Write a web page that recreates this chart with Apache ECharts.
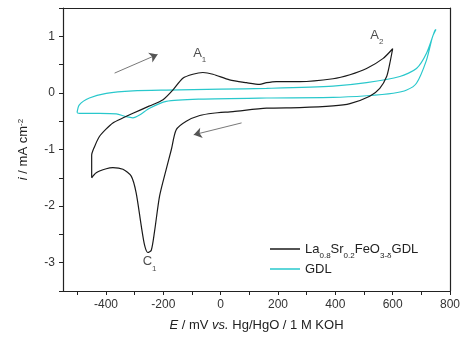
<!DOCTYPE html>
<html>
<head>
<meta charset="utf-8">
<script src="https://cdn.jsdelivr.net/npm/echarts@6/dist/echarts.min.js"></script>
<style>
  html, body { margin: 0; padding: 0; background: #fff; }
  #main { width: 465px; height: 346px; }
</style>
</head>
<body>
<div id="main"></div>
<script>
// LSF GDL loop: anodic sweep from -450 up to 600, then back down through C1
var lsfE = [-450, -450, -440, -423, -400, -376, -340, -306, -248, -201, -167, -132, -97, -62, -27, 31, 90, 136, 160, 194, 276, 392, 451, 509, 567, 600,
  590, 579, 555, 520, 451, 392, 276, 160, 43, -27, -73, -120, -155, -172, -190, -213, -231, -242, -254, -265, -277, -295, -312, -341, -376, -399, -434, -450]
var lsfI = [-1.5, -1.1, -0.95, -0.77, -0.64, -0.53, -0.44, -0.36, -0.23, -0.12, 0.05, 0.26, 0.33, 0.36, 0.33, 0.23, 0.18, 0.15, 0.18, 0.2, 0.2, 0.25, 0.32, 0.43, 0.61, 0.78,
  0.52, 0.29, 0.08, -0.06, -0.19, -0.23, -0.26, -0.27, -0.33, -0.36, -0.40, -0.50, -0.65, -1.0, -1.35, -1.82, -2.46, -2.78, -2.82, -2.70, -2.35, -1.76, -1.47, -1.35, -1.32, -1.34, -1.41, -1.5]
// bare GDL loop
var gdlE = [-501, -493, -458, -399, -306, -190, 0, 160, 392, 509, 625, 683, 718, 747, 751,
  739, 718, 683, 649, 602, 509, 392, 160, -73, -190, -248, -283, -306, -330, -364, -423, -493, -501]
var gdlI = [-0.35, -0.21, -0.09, -0.01, 0.035, 0.05, 0.065, 0.08, 0.12, 0.18, 0.29, 0.43, 0.70, 1.1, 1.12,
  0.99, 0.58, 0.17, 0.05, -0.006, -0.05, -0.08, -0.09, -0.11, -0.15, -0.27, -0.39, -0.44, -0.42, -0.37, -0.36, -0.36, -0.35]

var xTicks = [-500, -400, -300, -200, -100, 0, 100, 200, 300, 400, 500, 600, 700, 800]
var xLabels = [-400, -200, 0, 200, 400, 600, 800]
var yTicks = [-3.5, -3, -2.5, -2, -1.5, -1, -0.5, 0, 0.5, 1, 1.5]
var yLabels = [-3, -2, -1, 0, 1]

// peak labels and sweep arrows (data units)
var peakNames = ['A{s|1}', 'A{s|2}', 'C{s|1}']
var peakPos = [[-73, 0.70], [545, 1.02], [-248, -2.98]]
var arrowFrom = [[-370, 0.35], [73, -0.53]]
var arrowTo = [[-220, 0.68], [-94, -0.74]]

function zip(a, b) {
  var out = []
  a.forEach(function (v, i) {
    out.push([v, b[i]])
  })
  return out
}

var baseFont = 'Liberation Sans, Arial, sans-serif'
var ink = '#222'

var chart = echarts.init(document.getElementById('main'), null, { renderer: 'canvas' })
var axisLine = { onZero: false, lineStyle: { color: ink, width: 1.2 } }

chart.setOption({
  animation: false,
  backgroundColor: '#fff',
  textStyle: { fontFamily: baseFont },
  grid: { left: 63, right: 15, top: 8, bottom: 55 },
  legend: {
    left: 265, top: 233, orient: 'vertical', icon: 'rect', itemWidth: 30, itemHeight: 1.5, itemGap: 0,
    textStyle: {
      fontSize: 13, color: ink, lineHeight: 18,
      rich: { s: { fontSize: 8, verticalAlign: 'bottom', lineHeight: 22, color: ink } }
    },
    formatter: function (name) {
      return name == 'GDL' ? 'GDL' : 'La{s|0.8}Sr{s|0.2}FeO{s|3-δ}GDL'
    },
    data: ['LSF', 'GDL']
  },
  xAxis: [{
    type: 'value', min: -550, max: 800,
    name: '{i|E} / mV {i|vs.} Hg/HgO / 1 M KOH', nameLocation: 'middle', nameGap: 28,
    nameTextStyle: { fontSize: 13, color: ink, rich: { i: { fontStyle: 'italic', fontSize: 13, color: ink } } },
    axisLine: axisLine,
    axisTick: { show: true, length: 4, lineStyle: { color: ink }, customValues: xTicks },
    axisLabel: { fontSize: 12, color: '#333', margin: 8, customValues: xLabels },
    splitLine: { show: false }
  }, {
    type: 'value', position: 'top', min: -550, max: 800,
    axisLine: axisLine, axisTick: { show: false }, axisLabel: { show: false }, splitLine: { show: false }
  }],
  yAxis: [{
    type: 'value', min: -3.5, max: 1.5,
    name: '{i|i} / mA cm{p|-2}', nameLocation: 'middle', nameGap: 33,
    nameTextStyle: { fontSize: 13, color: ink, rich: { i: { fontStyle: 'italic', fontSize: 13, color: ink }, p: { fontSize: 8, verticalAlign: 'top', color: ink } } },
    axisLine: axisLine,
    axisTick: { show: true, length: 4, lineStyle: { color: ink }, customValues: yTicks },
    axisLabel: { fontSize: 12, color: '#333', margin: 8, customValues: yLabels },
    splitLine: { show: false }
  }, {
    type: 'value', position: 'right', min: -3.5, max: 1.5,
    axisLine: axisLine, axisTick: { show: false }, axisLabel: { show: false }, splitLine: { show: false }
  }],
  series: [
    {
      name: 'LSF', type: 'line', data: zip(lsfE, lsfI), smooth: 0.25, symbol: 'none',
      lineStyle: { color: '#1a1a1a', width: 1.2 }, itemStyle: { color: '#1a1a1a' }, z: 3
    },
    {
      name: 'GDL', type: 'line', data: zip(gdlE, gdlI), smooth: 0.25, symbol: 'none',
      lineStyle: { color: '#29c8cc', width: 1.2 }, itemStyle: { color: '#29c8cc' }, z: 2
    },
    {
      name: 'marks', type: 'scatter', symbolSize: 0, silent: true,
      data: peakPos.map(function (p, i) {
        return { value: p, label: { formatter: peakNames[i] } }
      }),
      label: {
        show: true, position: 'inside', fontSize: 13, color: ink, lineHeight: 18,
        rich: { s: { fontSize: 8, verticalAlign: 'bottom', lineHeight: 22, color: ink } }
      },
      markLine: {
        silent: true, symbol: ['none', 'arrow'], symbolSize: 8,
        lineStyle: { color: '#555', width: 0.8, type: 'solid' },
        itemStyle: { color: '#555' },
        label: { show: false },
        emphasis: { disabled: true },
        data: arrowFrom.map(function (p, i) {
          return [{ coord: p }, { coord: arrowTo[i] }]
        })
      }
    }
  ]
})
</script>
</body>
</html>
